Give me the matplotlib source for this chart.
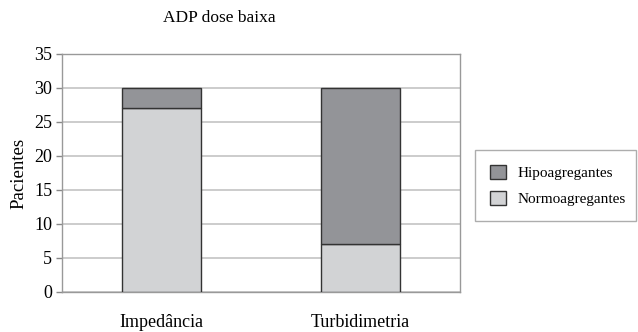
import matplotlib.pyplot as plt
import numpy as np

plt.rcParams['font.family'] = ['Liberation Serif', 'DejaVu Serif']

# patient counts per method
metodos = ['Impedância', 'Turbidimetria']
normo = [27, 7]
hipo = [3, 23]

fig = plt.figure(figsize=(6.38, 3.32), dpi=100)
ax = fig.add_axes([62 / 638, 1 - 292 / 332, 398 / 638, 238 / 332])

x = np.arange(len(metodos))
b1 = ax.bar(x, normo, width=0.4, color='#d2d3d5', edgecolor='#333333',
            linewidth=1.0, label='Normoagregantes', zorder=3)
b2 = ax.bar(x, hipo, width=0.4, bottom=normo, color='#939498',
            edgecolor='#333333', linewidth=1.0, label='Hipoagregantes', zorder=3)

ax.set_xlim(-0.5, 1.5)
ax.set_ylim(0, 35)
ax.set_yticks(range(0, 36, 5))
ax.set_xticks(x)
ax.set_xticklabels(metodos, fontsize=13)
ax.tick_params(axis='x', length=0, pad=16)
ax.tick_params(axis='y', length=4, width=1, color='#888888', labelsize=13, pad=3)
ax.yaxis.grid(True, color='#c8c8c8', linewidth=1.3, zorder=0)
for s in ax.spines.values():
    s.set_color('#999999')
    s.set_linewidth(1.0)
ax.set_ylabel('Pacientes', fontsize=13.5, labelpad=5)

fig.text(219 / 638, 1 - 18 / 332, 'ADP dose baixa', fontsize=12.5,
         ha='center', va='center')

leg = ax.legend(handles=[b2, b1], labels=['Hipoagregantes', 'Normoagregantes'],
                loc='center left', bbox_to_anchor=(475 / 638, 1 - 225 / 332, 161 / 638, 79 / 332),
                bbox_transform=fig.transFigure, mode='expand', fontsize=11,
                frameon=True, fancybox=False, borderaxespad=0, handlelength=1.0,
                handleheight=1.0, labelspacing=0.7, handletextpad=0.8,
                borderpad=1.0)
leg.get_frame().set_edgecolor('#999999')
leg.get_frame().set_linewidth(1.0)

fig.savefig('out.png', dpi=100)
